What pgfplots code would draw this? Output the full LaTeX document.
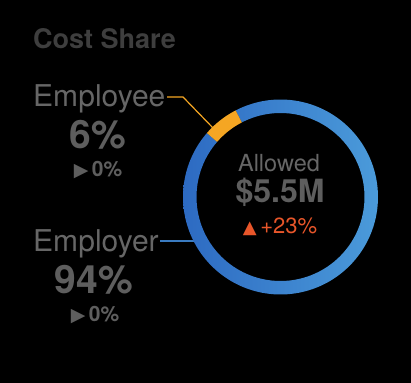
\documentclass[border=0pt]{standalone}
\usepackage{pgfplots}
\pgfplotsset{compat=1.18}
\usepackage{pgfplotstable}
\usepackage{fontspec}
\setmainfont{TeX Gyre Heros}
\newfontfamily\sym{DejaVu Sans}
\definecolor{bgc}{HTML}{000000}
\definecolor{blueL}{HTML}{2D6AC2}
\definecolor{blueR}{HTML}{4B9BDA}
\definecolor{orng}{HTML}{F5A623}
\definecolor{titlec}{HTML}{3E3E3E}
\definecolor{labc}{HTML}{666666}
\definecolor{numc}{HTML}{5E5E5E}
\definecolor{redc}{HTML}{E8562A}
\definecolor{linec}{HTML}{3A7BC0}

\pgfplotstableread{
label share
Employee 6
Employer 94
}\sharetable
\pgfplotstablegetelem{0}{share}\of\sharetable
\let\shareEmployee\pgfplotsretval
\pgfplotstablegetelem{1}{share}\of\sharetable
\let\shareEmployer\pgfplotsretval
\pgfmathsetmacro{\aStart}{117.4}
\pgfmathsetmacro{\aMid}{\aStart+3.6*\shareEmployee}
\pgfmathsetmacro{\aEnd}{\aMid+3.6*\shareEmployer}

\begin{document}
\begin{tikzpicture}
\fill[bgc] (0,0) rectangle (411bp,383bp);
\begin{axis}[
  scale only axis, width=411bp, height=383bp,
  xmin=0, xmax=411, ymin=0, ymax=383,
  hide axis, clip=false,
  declare function={
    RR(\t)=97.5-13.5*min(max(\t-1,0),1);
    TT(\t,\a,\b)=\a+(\b-\a)*min(\t,1)-(\b-\a)*max(\t-2,0);
  },
]
% leader lines
\draw[orng, line width=1.2bp] (axis cs:167,286) -- (axis cs:183,286) -- (axis cs:214,254);
\draw[linec, line width=1.2bp] (axis cs:160,142) -- (axis cs:195,142);
% employer segment
\addplot[draw=none, left color=blueL, right color=blueR, domain=0:3, samples=400]
  ({280.5+RR(x)*cos(TT(x,\aMid,\aEnd))},{186+RR(x)*sin(TT(x,\aMid,\aEnd))});
% employee segment
\addplot[draw=none, fill=orng, domain=0:3, samples=120]
  ({280.5+RR(x)*cos(TT(x,\aStart,\aMid))},{186+RR(x)*sin(TT(x,\aStart,\aMid))});
% texts
\node[anchor=base west, inner sep=0, text=titlec, font=\fontsize{27bp}{30bp}\selectfont\bfseries] at (axis cs:33,334) {Cost Share};
\node[anchor=base west, inner sep=0, text=labc, font=\fontsize{30bp}{34bp}\selectfont] at (axis cs:33,276) {Employee};
\node[anchor=base, inner sep=0, text=numc, font=\fontsize{39bp}{40bp}\selectfont\bfseries] at (axis cs:98,234) {6\%};
\node[anchor=base, inner sep=0, text=numc, font=\fontsize{21bp}{23bp}\selectfont\bfseries] at (axis cs:98,206) {{\sym\fontsize{19bp}{21bp}\selectfont ▶}\,0\%};
\node[anchor=base west, inner sep=0, text=labc, font=\fontsize{30bp}{34bp}\selectfont] at (axis cs:33,131) {Employer};
\node[anchor=base, inner sep=0, text=numc, font=\fontsize{39bp}{40bp}\selectfont\bfseries] at (axis cs:94,89) {94\%};
\node[anchor=base, inner sep=0, text=numc, font=\fontsize{21bp}{23bp}\selectfont\bfseries] at (axis cs:95,61) {{\sym\fontsize{19bp}{21bp}\selectfont ▶}\,0\%};
\node[anchor=base, inner sep=0, text=labc, font=\fontsize{23.5bp}{26bp}\selectfont] at (axis cs:279,211) {Allowed};
\node[anchor=base, inner sep=0, text=numc, font=\fontsize{32bp}{34bp}\selectfont\bfseries] at (axis cs:280,180) {\$5.5M};
\node[anchor=base, inner sep=0, text=redc, font=\fontsize{22bp}{24bp}\selectfont] at (axis cs:280,149) {{\sym\fontsize{18bp}{20bp}\selectfont ▲}\,+23\%};
\end{axis}
\end{tikzpicture}
\end{document}
